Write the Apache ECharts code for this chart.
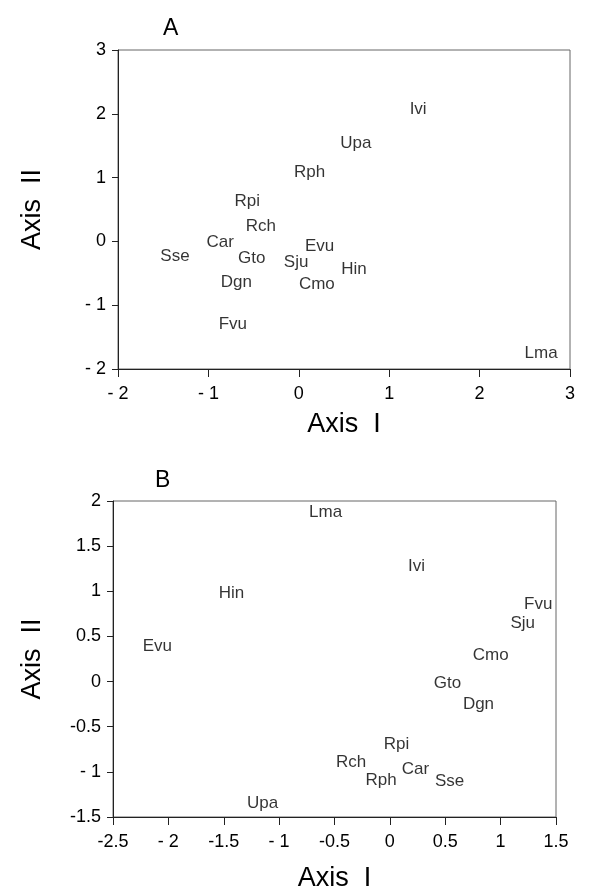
<!DOCTYPE html>
<html>
<head>
<meta charset="utf-8">
<script src="https://cdn.jsdelivr.net/npm/echarts@6/dist/echarts.min.js"></script>
<style>
  html, body { margin: 0; padding: 0; background: #fff; }
  #chart { width: 595px; height: 893px; }
</style>
</head>
<body>
<div id="chart"></div>
<script>
// species codes, same for both ordinations
const species = ['Ivi', 'Upa', 'Rph', 'Rpi', 'Rch', 'Car', 'Sse', 'Gto', 'Evu', 'Sju', 'Hin', 'Dgn', 'Cmo', 'Fvu', 'Lma'];

// panel A scores
const axisIA  = [1.32, 0.63, 0.12, -0.57, -0.42, -0.87, -1.37, -0.52, 0.23, -0.03, 0.61, -0.69, 0.20, -0.73, 2.68];
const axisIIA = [2.07, 1.53, 1.08, 0.63, 0.24, -0.02, -0.23, -0.27, -0.07, -0.32, -0.44, -0.64, -0.68, -1.30, -1.75];

// panel B scores
const axisIB  = [0.24, -1.15, -0.08, 0.06, -0.35, 0.23, 0.54, 0.52, -2.10, 1.20, -1.43, 0.80, 0.91, 1.34, -0.58];
const axisIIB = [1.28, -1.35, -1.09, -0.70, -0.89, -0.97, -1.11, -0.02, 0.39, 0.64, 0.98, -0.25, 0.29, 0.86, 1.87];

const font = 'Liberation Sans, Arial, sans-serif';

function tickFmt(v) {
    let s = String(v);
    if (s === '-1' || s === '-2') return '- ' + s.slice(1);
    return s;
}

function points(xs, ys) {
    return species.map((n, i) => ({ name: n, value: [xs[i], ys[i]] }));
}

function xAxisOf(idx, min, max, interval) {
    return {
        gridIndex: idx, type: 'value', min: min, max: max, interval: interval,
        name: 'Axis  I', nameLocation: 'middle', nameGap: idx === 0 ? 42 : 48,
        nameTextStyle: { fontFamily: font, fontSize: 27, color: '#000' },
        axisLine: { show: true, onZero: false, lineStyle: { color: '#222', width: 1 } },
        axisTick: { show: true, inside: false, length: 8, lineStyle: { color: '#222' } },
        axisLabel: { fontFamily: font, fontSize: 18, color: '#000', margin: 16, formatter: tickFmt },
        splitLine: { show: false }
    };
}

function yAxisOf(idx, min, max, interval) {
    return {
        gridIndex: idx, type: 'value', min: min, max: max, interval: interval,
        name: 'Axis  II', nameLocation: 'middle', nameRotate: 90, nameGap: idx === 0 ? 72 : 67,
        nameTextStyle: { fontFamily: font, fontSize: 27, color: '#000' },
        axisLine: { show: true, onZero: false, lineStyle: { color: '#222', width: 1 } },
        axisTick: { show: true, inside: false, length: 6, lineStyle: { color: '#222' } },
        axisLabel: { fontFamily: font, fontSize: 18, color: '#000', margin: 12, formatter: tickFmt },
        splitLine: { show: false }
    };
}

function seriesOf(idx, xs, ys) {
    return {
        type: 'scatter', xAxisIndex: idx, yAxisIndex: idx,
        symbolSize: 1, itemStyle: { color: 'rgba(0,0,0,0)' },
        label: {
            show: true, position: 'inside', formatter: '{b}',
            fontFamily: font, fontSize: 17, color: '#000'
        },
        data: points(xs, ys)
    };
}

let chart = echarts.init(document.getElementById('chart'));
chart.setOption({
    animation: false,
    backgroundColor: '#fff',
    title: [
        { text: 'A', left: 158, top: 12, textStyle: { fontFamily: font, fontSize: 23, fontWeight: 'normal', color: '#000' } },
        { text: 'B', left: 150, top: 464, textStyle: { fontFamily: font, fontSize: 23, fontWeight: 'normal', color: '#000' } }
    ],
    grid: [
        { left: 118, top: 50, width: 452, height: 319, show: true, borderColor: '#666', borderWidth: 1, backgroundColor: 'transparent' },
        { left: 113, top: 501, width: 443, height: 317, show: true, borderColor: '#666', borderWidth: 1, backgroundColor: 'transparent' }
    ],
    xAxis: [xAxisOf(0, -2, 3, 1), xAxisOf(1, -2.5, 1.5, 0.5)],
    yAxis: [yAxisOf(0, -2, 3, 1), yAxisOf(1, -1.5, 2, 0.5)],
    series: [seriesOf(0, axisIA, axisIIA), seriesOf(1, axisIB, axisIIB)]
});
</script>
</body>
</html>
